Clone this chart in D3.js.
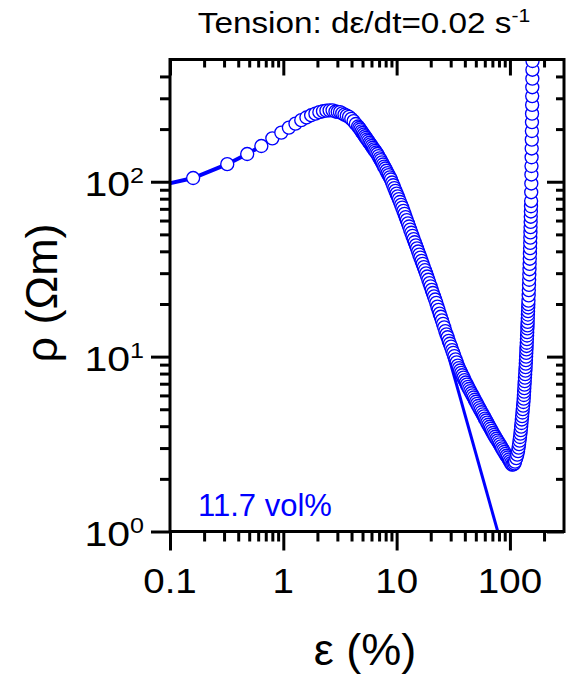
<!DOCTYPE html>
<html><head><meta charset="utf-8">
<script src="https://cdn.jsdelivr.net/npm/d3@7"></script>
<style>
body{margin:0;background:#fff}
text{font-family:"Liberation Sans",Arial,Helvetica,sans-serif;fill:#000}
</style>
</head><body>
<svg id="chart" width="574" height="681"></svg>
<script>
// ---- data ----
const strain = [
0.08,0.16,0.32,0.48,0.64,0.80,0.96,1.12,1.28,1.44,1.60,1.76,1.92,2.08,2.24,2.40,2.56,2.72,
2.884,3.020,3.162,3.311,3.467,3.631,3.802,3.981,4.169,4.365,4.571,4.677,4.786,4.898,5.012,5.129,5.248,5.370,5.495,5.623,
5.754,5.888,6.026,6.166,6.310,
6.457,6.607,6.761,6.918,7.079,7.244,7.413,7.586,7.762,7.943,8.128,8.318,8.511,8.710,8.913,9.120,9.333,9.550,9.772,
10.00,10.23,10.47,10.72,10.96,11.22,11.48,11.75,12.02,12.30,12.59,12.88,13.18,13.49,13.80,14.13,14.45,14.79,15.14,15.49,
15.85,16.22,16.60,16.98,17.38,17.78,18.20,18.62,19.05,19.50,19.95,20.42,20.89,21.38,21.88,22.39,22.91,23.44,23.99,24.55,
25.12,25.70,26.30,26.92,27.54,28.18,28.84,29.51,30.20,30.90,31.62,32.36,33.11,33.88,34.67,35.48,36.31,37.15,38.02,38.90,
39.81,40.74,41.69,42.66,43.65,44.67,45.71,46.77,47.86,48.98,50.12,51.29,52.48,53.70,54.95,56.23,57.54,58.88,60.26,61.66,
63.10,64.57,66.07,67.61,69.18,70.79,72.44,74.13,75.86,77.62,79.43,81.28,83.18,85.11,87.10,89.13,91.20,93.33,95.50,97.72,
100.0,102.3,104.7,107.2,109.6,
111.0,113.7,116.0,117.9,119.3,120.4,121.6,122.7,123.8,124.7,125.6,126.4,127.3,128.1,129.0,129.8,130.7,131.5,132.3,132.8,
133.4,134.0,134.5,135.1,135.7,136.3,136.9,137.5,138.0,138.4,138.9,139.4,139.8,140.3,140.7,141.2,141.7,142.1,142.5,142.9,
143.3,143.7,144.1,144.5,144.9,145.3,145.7,146.3,146.8,147.3,147.8,148.3,148.8,149.2,149.7,150.2,150.6,151.0,151.3,151.7,
152.0,152.4,152.7,153.1,153.4,153.8,154.1,154.4,154.7,155.0,155.3,155.6,155.9,156.2,156.5,156.7,157.0,157.2,157.5,157.7,
157.9,158.2,158.4
];
const rho = [
95,105,126,144,160,177,191,204,215,225,233,240,245,250,253,255,256,256,
252,251,250,246,242,239,235,229,222,214,207,203,199,194,190,186,182,178,174.5,171,
167,163.5,160,156.5,153,
150,147,144,140,136,133,129,125.5,122,119,115.5,112,109,106,103,99.0,95.5,92.0,88.7,
85.5,82.4,79.5,76.6,73.8,71.1,68.2,65.5,62.8,60.3,57.8,55.5,53.2,51.1,49.0,47.0,45.1,43.3,41.6,39.9,
38.3,36.8,35.3,33.9,32.5,31.2,29.9,28.7,27.5,26.3,25.2,24.1,23.1,22.1,21.2,20.3,19.3,18.5,17.6,16.9,
16.1,15.4,14.7,14.0,13.4,12.9,12.3,11.85,11.4,10.9,10.5,10.06,9.65,9.27,8.89,8.60,8.33,8.07,7.82,7.58,
7.34,7.11,6.91,6.72,6.53,6.35,6.17,6.00,5.84,5.67,5.52,5.37,5.22,5.08,4.94,4.81,4.67,4.55,4.42,4.31,
4.19,4.08,3.97,3.87,3.76,3.66,3.57,3.48,3.39,3.31,3.23,3.15,3.07,2.99,2.92,2.85,2.78,2.71,2.65,2.58,
2.52,2.46,2.41,2.42,2.45,
2.51,2.63,2.75,2.88,3.02,3.16,3.31,3.47,3.63,3.80,3.98,4.17,4.37,4.57,4.79,5.01,5.25,5.50,5.75,6.03,
6.31,6.61,6.92,7.24,7.59,7.94,8.32,8.71,9.12,9.55,10.0,10.5,11.0,11.5,12.0,12.6,13.2,13.8,14.5,15.1,
15.8,16.6,17.4,18.2,19.1,19.95,20.9,22.4,24.0,25.7,27.5,29.5,31.6,33.9,36.3,38.9,41.7,44.7,47.9,51.3,
55.0,58.9,63.1,67.6,72.4,77.6,87.1,97.7,110,123,138,155,174,195,219,245,275,309,347,389,
437,490,550
];
// straight power-law line (end points)
const fitStrain = [12, 90];
const fitRho = [75.5, 0.72];

const xTickValues = [0.1, 1, 10, 100];
const xTickLabels = ["0.1", "1", "10", "100"];
const yTickValues = [1, 10, 100];
const yTickExponents = ["0", "1", "2"];
const titleMain = "Tension: d\u03b5/dt=0.02 s";
const titleSup = "-1";
const xTitle = "\u03b5 (%)";
const yTitle = "\u03c1 (\u03a9m)";
const note = "11.7 vol%";

// ---- layout ----
const blue = "#0000ff";
const L = 170, R = 564, T = 59.5, B = 531.5;
const x = d3.scaleLog().domain([0.1, 300]).range([L, R]);
const y = d3.scaleLog().domain([1, 500]).range([B, T]);

const svg = d3.select("#chart");

svg.append("clipPath").attr("id", "plotclip")
  .append("rect").attr("x", L).attr("y", T).attr("width", R - L).attr("height", B - T);

const plot = svg.append("g").attr("clip-path", "url(#plotclip)");
const pts = strain.map((s, i) => [s, rho[i]]);

plot.append("path")
  .datum(pts)
  .attr("fill", "none").attr("stroke", blue).attr("stroke-width", 4)
  .attr("d", d3.line().x(d => x(d[0])).y(d => y(d[1])));

plot.append("path")
  .datum(fitStrain.map((s, i) => [s, fitRho[i]]))
  .attr("fill", "none").attr("stroke", blue).attr("stroke-width", 3)
  .attr("d", d3.line().x(d => x(d[0])).y(d => y(d[1])));

plot.selectAll("circle.pt").data(pts).enter().append("circle")
  .attr("class", "pt")
  .attr("cx", d => x(d[0])).attr("cy", d => y(d[1])).attr("r", 6.5)
  .attr("fill", "#fff").attr("stroke", blue).attr("stroke-width", 1.35);

// ---- axes ----
const xMinor = [], yMinor = [];
[0.1, 1, 10, 100].forEach(d => { for (let k = 2; k <= 9; k++) { const v = k * d; if (v < 300) xMinor.push(v); } });
[1, 10, 100].forEach(d => { for (let k = 2; k <= 9; k++) { const v = k * d; if (v < 500) yMinor.push(v); } });

function styleAxis(g) {
  g.select(".domain").remove();
  g.selectAll(".tick line").attr("stroke", "#000").attr("stroke-width", 3);
  g.selectAll(".tick text").remove();
}
const ax = (gen, tr) => svg.append("g").attr("transform", tr).call(gen).call(styleAxis);
ax(d3.axisBottom(x).tickValues(xTickValues).tickSize(19), `translate(0,${B})`);
ax(d3.axisBottom(x).tickValues(xMinor).tickSize(10), `translate(0,${B})`);
ax(d3.axisTop(x).tickValues(xTickValues).tickSize(-16), `translate(0,${T})`);
ax(d3.axisTop(x).tickValues(xMinor).tickSize(-8), `translate(0,${T})`);
ax(d3.axisLeft(y).tickValues(yTickValues).tickSize(19), `translate(${L},0)`);
ax(d3.axisLeft(y).tickValues(yMinor).tickSize(10), `translate(${L},0)`);
ax(d3.axisRight(y).tickValues(yTickValues).tickSize(-17), `translate(${R},0)`);
ax(d3.axisRight(y).tickValues(yMinor).tickSize(-8), `translate(${R},0)`);

svg.append("rect").attr("x", L).attr("y", T).attr("width", R - L).attr("height", B - T)
  .attr("fill", "none").attr("stroke", "#000").attr("stroke-width", 3);

// ---- text ----
const stretch = 1.1;
xTickValues.forEach((v, i) => {
  svg.append("text").attr("transform", `translate(${x(v)},593) scale(${stretch},1)`)
    .attr("text-anchor", "middle").attr("font-size", 35).text(xTickLabels[i]);
});
yTickValues.forEach((v, i) => {
  const t = svg.append("text").attr("transform", `translate(144,${y(v) + 14}) scale(1.14,1)`)
    .attr("text-anchor", "end").attr("font-size", 36);
  t.append("tspan").text("10");
  t.append("tspan").attr("dy", -13).attr("font-size", 22).text(yTickExponents[i]);
});

const tt = svg.append("text").attr("transform", "translate(364,33) scale(1.11,1)")
  .attr("text-anchor", "middle").attr("font-size", 30);
tt.append("tspan").text(titleMain);
tt.append("tspan").attr("dy", -11).attr("font-size", 19).text(titleSup);

svg.append("text").attr("x", 365).attr("y", 665).attr("text-anchor", "middle")
  .attr("font-size", 45).text(xTitle);
svg.append("text").attr("transform", "translate(57,293) rotate(-90)").attr("text-anchor", "middle")
  .attr("font-size", 45).text(yTitle);

svg.append("text").attr("x", 198).attr("y", 516).attr("font-size", 31)
  .style("fill", blue).text(note);
</script>
</body></html>
